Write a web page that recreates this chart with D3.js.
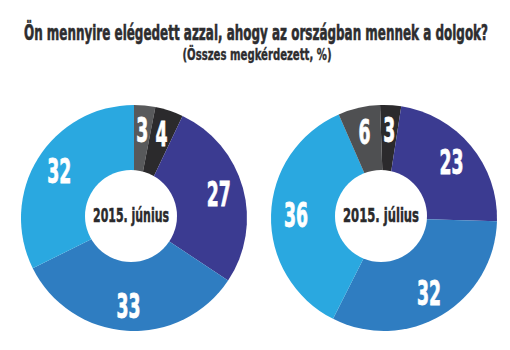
<!DOCTYPE html>
<html>
<head>
<meta charset="utf-8">
<script src="https://cdn.jsdelivr.net/npm/d3@7/dist/d3.min.js"></script>
<style>
  html, body { margin: 0; padding: 0; background: #fff; }
  svg { display: block; }
  .cond { font-family: "DejaVu Sans Condensed", "Liberation Sans Narrow", sans-serif; font-weight: bold; }
</style>
</head>
<body>
<svg id="chart" width="510" height="350"></svg>
<script>
// Survey answers, in drawing order (clockwise from 12 o'clock)
const categoriesJune = ["nem tudja", "egyáltalán nem", "inkább nem", "inkább igen", "nagyon"];
const valuesJune = [3, 4, 27, 33, 32];
const colorsJune = ["#58595b", "#2b2a2c", "#3b3b91", "#2f7dc1", "#2aa8e0"];

const categoriesJuly = ["egyáltalán nem", "inkább nem", "inkább igen", "nagyon", "nem tudja"];
const valuesJuly = [3, 23, 32, 36, 6];
const colorsJuly = ["#2b2a2c", "#3b3b91", "#2f7dc1", "#2aa8e0", "#4f5052"];

const titleText = "Ön mennyire elégedett azzal, ahogy az országban mennek a dolgok?";
const subtitleText = "(Összes megkérdezett, %)";
const periodLabels = ["2015. június", "2015. július"];

const svg = d3.select("#chart");

svg.append("text")
  .attr("class", "cond")
  .attr("x", 256).attr("y", 40)
  .attr("text-anchor", "middle")
  .attr("font-size", 22)
  .attr("fill", "#2d2d2f")
  .attr("stroke", "#2d2d2f").attr("stroke-width", 0.6)
  .attr("textLength", 464)
  .attr("lengthAdjust", "spacingAndGlyphs")
  .text(titleText);

svg.append("text")
  .attr("class", "cond")
  .attr("x", 257).attr("y", 60)
  .attr("text-anchor", "middle")
  .attr("font-size", 16.5)
  .attr("fill", "#2d2d2f")
  .attr("stroke", "#2d2d2f").attr("stroke-width", 0.4)
  .attr("textLength", 149)
  .attr("lengthAdjust", "spacingAndGlyphs")
  .text(subtitleText);

function donut(cx, cy, values, cats, colors, label, startOffset) {
  const outerR = 113, holeR = 46;
  const g = svg.append("g").attr("transform", `translate(${cx},${cy})`);
  const pie = d3.pie().sort(null)
    .startAngle(startOffset)
    .endAngle(startOffset + 2 * Math.PI);
  const arcs = pie(values);
  const arc = d3.arc().innerRadius(0).outerRadius(outerR);
  const labelArc = d3.arc().innerRadius(88).outerRadius(88);
  const color = d3.scaleOrdinal().domain(cats).range(colors);

  g.selectAll("path.slice")
    .data(arcs)
    .join("path")
    .attr("class", "slice")
    .attr("d", arc)
    .attr("fill", (d, i) => color(cats[i]));

  // white hole in the middle
  g.append("circle")
    .attr("cx", -3).attr("cy", -2)
    .attr("r", holeR)
    .attr("fill", "#fff");

  g.selectAll("text.val")
    .data(arcs)
    .join("text")
    .attr("class", "val cond")
    .attr("transform", d => `translate(${labelArc.centroid(d)})`)
    .attr("text-anchor", "middle")
    .attr("dy", "0.36em")
    .attr("font-size", 33)
    .attr("fill", "#fff")
    .attr("stroke", "#fff").attr("stroke-width", 0.8)
    .attr("textLength", d => String(d.data).length * 12)
    .attr("lengthAdjust", "spacingAndGlyphs")
    .text(d => d.data);

  g.append("text")
    .attr("class", "cond")
    .attr("x", -3).attr("y", -3)
    .attr("dy", "0.36em")
    .attr("text-anchor", "middle")
    .attr("font-size", 20)
    .attr("fill", "#2a2a2c")
    .attr("stroke", "#2a2a2c").attr("stroke-width", 0.5)
    .attr("textLength", label.length > 11 ? 76 : 72)
    .attr("lengthAdjust", "spacingAndGlyphs")
    .text(label);
}

donut(134, 218, valuesJune, categoriesJune, colorsJune, periodLabels[0], 0);
donut(384, 218, valuesJuly, categoriesJuly, colorsJuly, periodLabels[1], -0.035);
</script>
</body>
</html>
